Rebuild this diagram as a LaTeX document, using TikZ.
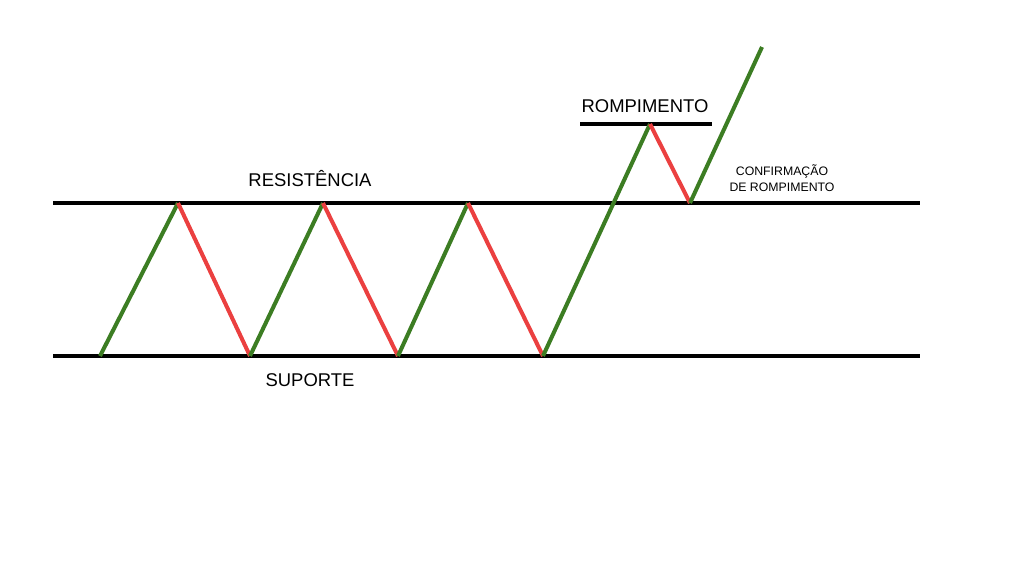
\documentclass[tikz,border=0pt]{standalone}
\usepackage{fontspec}
\setmainfont{Liberation Sans}
\definecolor{upgreen}{RGB}{60,125,35}
\definecolor{downred}{RGB}{235,64,64}
\begin{document}
\begin{tikzpicture}[
    x=0.02cm, y=-0.02cm,
    level/.style={line width=2.8pt, black},
    up/.style={line width=2.3pt, upgreen},
    down/.style={line width=2.3pt, downred},
    label/.style={font=\fontsize{10.5}{12}\selectfont},
    note/.style={font=\fontsize{7}{9}\selectfont, align=center}
]
\useasboundingbox (0,0) rectangle (1024,576);

% Levels
\coordinate (resL) at (53,203);  \coordinate (resR) at (920,203);
\coordinate (supL) at (53,356);  \coordinate (supR) at (920,356);
\coordinate (brkL) at (580,124); \coordinate (brkR) at (712,124);
\draw[level] (resL) -- (resR);
\draw[level] (supL) -- (supR);
\draw[level] (brkL) -- (brkR);

% Price path
\coordinate (p0) at (100,356);
\coordinate (p1) at (178,203);
\coordinate (p2) at (250,356);
\coordinate (p3) at (323,203);
\coordinate (p4) at (398,356);
\coordinate (p5) at (468,203);
\coordinate (p6) at (543,356);
\coordinate (p7) at (650,124);
\coordinate (p8) at (690,203);
\coordinate (p9) at (762,47);
\draw[up] (p0) -- (p1);
\draw[down] (p1) -- (p2);
\draw[up] (p2) -- (p3);
\draw[down] (p3) -- (p4);
\draw[up] (p4) -- (p5);
\draw[down] (p5) -- (p6);
\draw[up] (p6) -- (p7);
\draw[down] (p7) -- (p8);
\draw[up] (p8) -- (p9);

% Labels
\node (resistencia) [label] at (310,179) {RESISTÊNCIA};
\node (suporte) [label] at (310,380) {SUPORTE};
\node (rompimento) [label] at (645,106) {ROMPIMENTO};
\node (confirmacao) [note] at (782,178) {CONFIRMAÇÃO\\DE ROMPIMENTO};

\end{tikzpicture}
\end{document}
